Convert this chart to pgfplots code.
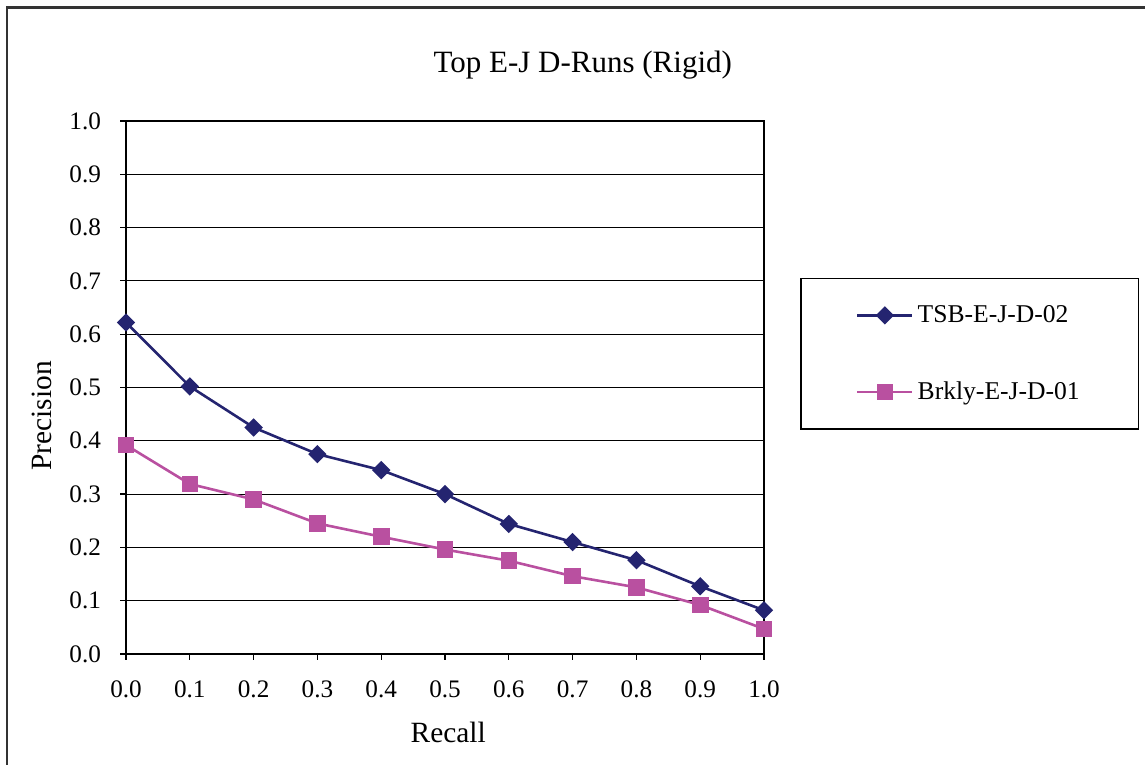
\documentclass[border=0pt]{standalone}
\usepackage{fontspec}
\setmainfont{Liberation Serif}
\usepackage{pgfplots}
\pgfplotsset{compat=1.18}
\definecolor{tsb}{RGB}{36,36,112}
\definecolor{brk}{RGB}{185,80,160}
\begin{document}
\begin{tikzpicture}
\clip (0,0) rectangle (572.5pt,382.5pt);
\draw[line width=1.1pt, black!80] (3.5pt,-10pt) -- (3.5pt,378.75pt) -- (590pt,378.75pt);
\begin{axis}[
  at={(63pt,55.5pt)}, anchor=south west,
  scale only axis, width=319pt, height=266.5pt,
  xmin=0, xmax=1, ymin=0, ymax=1,
  xtick={0,0.1,...,1.0}, ytick={0,0.1,...,1.0},
  tick align=outside, major tick length=3pt,
  xtick pos=bottom, ytick pos=left,
  ymajorgrids, major grid style={black, line width=0.5pt},
  axis line style={black, line width=0.7pt},
  tick style={black, line width=0.6pt},
  /pgf/number format/assume math mode=true,
  /pgf/number format/.cd, fixed, fixed zerofill, precision=1, /pgfplots/.cd,
  tick label style={font=\fontsize{12.6}{15}\selectfont},
  xticklabel style={yshift=-7pt},
  yticklabel style={xshift=-6pt},
  title={Top E-J D-Runs (Rigid)},
  title style={at={(0.716,1.083)}, anchor=center, font=\fontsize{15.5}{18}\selectfont},
  xlabel={Recall},
  xlabel style={at={(axis description cs:0.505,-0.148)}, anchor=center, font=\fontsize{14.7}{17}\selectfont},
  ylabel={Precision},
  ylabel style={at={(axis description cs:-0.1317,0.4465)}, anchor=center, rotate=0, font=\fontsize{14.7}{17}\selectfont},
  legend style={at={(1.057,0.706)}, anchor=north west, draw=black, line width=0.7pt,
    font=\fontsize{12.8}{15}\selectfont, inner xsep=27.5pt, inner ysep=11.5pt, row sep=24pt},
  legend cell align=left,
  legend image code/.code={\draw[mark repeat=2, mark phase=2] plot coordinates {(0pt,0pt) (13.75pt,0pt) (27.5pt,0pt)};},
]
\addplot[color=tsb, line width=1.3pt, mark=square*, mark size=2.6pt, mark options={rotate=45, solid, fill=tsb}]
 coordinates {(0.0,0.622) (0.1,0.502) (0.2,0.425) (0.3,0.375) (0.4,0.345) (0.5,0.300) (0.6,0.244) (0.7,0.210) (0.8,0.176) (0.9,0.127) (1.0,0.082)};
\addlegendentry{TSB-E-J-D-02}
\addplot[color=brk, line width=1.3pt, mark=square*, mark size=3.5pt, mark options={solid, fill=brk}]
 coordinates {(0.0,0.392) (0.1,0.319) (0.2,0.290) (0.3,0.245) (0.4,0.220) (0.5,0.196) (0.6,0.175) (0.7,0.146) (0.8,0.125) (0.9,0.092) (1.0,0.047)};
\addlegendentry{Brkly-E-J-D-01}
\end{axis}
\end{tikzpicture}
\end{document}
